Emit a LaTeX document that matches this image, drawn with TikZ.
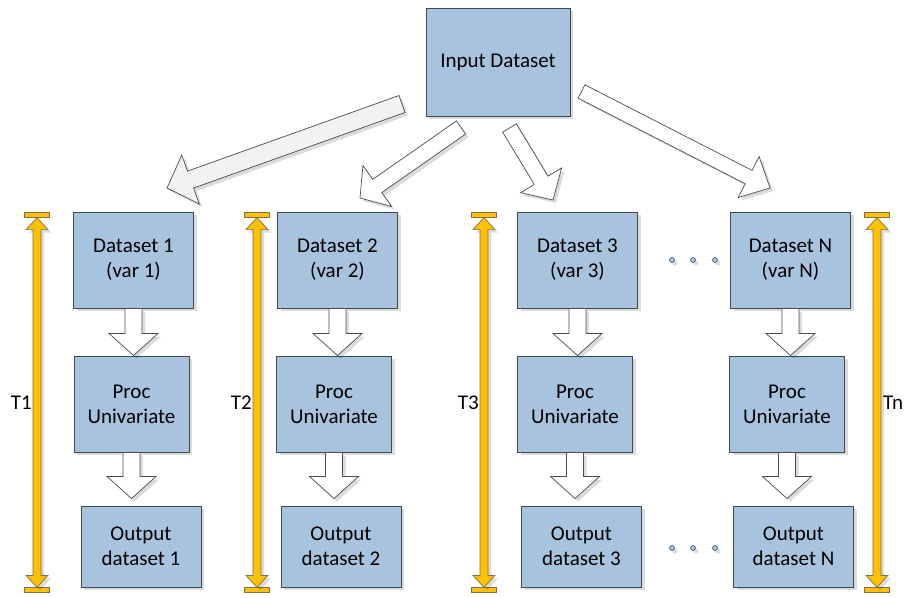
\documentclass[tikz,border=0pt]{standalone}
\usepackage{fontspec}
\setmainfont{Carlito}
\usetikzlibrary{calc}
\usetikzlibrary{positioning}
\usetikzlibrary{shadows}

\definecolor{boxblue}{RGB}{167,195,222}
\definecolor{boxline}{RGB}{62,72,82}
\definecolor{barfill}{RGB}{255,192,0}
\definecolor{barline}{RGB}{125,112,80}

\tikzset{
  softshadow/.style={drop shadow={shadow xshift=3pt, shadow yshift=-3pt, fill=black, opacity=.14}},
  box/.style={draw=boxline, line width=1pt, fill=boxblue, align=center, inner sep=2pt,
    font=\fontsize{21}{25}\selectfont, softshadow},
  dset/.style={box, minimum width=120pt, minimum height=96pt},
  proc/.style={box, minimum width=115pt, minimum height=96pt},
  outp/.style={box, minimum width=120pt, minimum height=81pt},
  fat/.style={draw=gray!60!black, line width=.7pt, line join=miter, softshadow},
  tbar/.style={draw=barline, fill=barfill, minimum width=25pt, minimum height=4.5pt, inner sep=0pt, line width=.7pt},
  tline/.style={draw=barline, fill=barfill, line width=.7pt, softshadow},
  tlabel/.style={inner sep=1pt, font=\fontsize{21}{25}\selectfont},
  dot/.style={circle, draw=boxline, fill=boxblue, minimum size=5pt, inner sep=0pt, line width=.6pt, softshadow}
}

% block arrow: [fill]{from}{to}{half shaft}{half head}{head length}
\newcommand{\fatarrow}[6][white]{%
  \path (#2) coordinate (fa-a) (#3) coordinate (fa-b);
  \path ($(fa-b)!#6!(fa-a)$) coordinate (fa-h);
  \draw[fat, fill=#1] ($(fa-a)!#4!90:(fa-b)$) -- ($(fa-h)!#4!90:(fa-b)$) -- ($(fa-h)!#5!90:(fa-b)$)
    -- (fa-b) -- ($(fa-h)!#5!-90:(fa-b)$) -- ($(fa-h)!#4!-90:(fa-b)$) -- ($(fa-a)!#4!-90:(fa-b)$) -- cycle;
}
% yellow double arrow between two bars
\newcommand{\timespan}[2]{%
  \path (#1) coordinate (ts-a) (#2) coordinate (ts-b);
  \path ($(ts-a)!12pt!(ts-b)$) coordinate (ts-ha) ($(ts-b)!12pt!(ts-a)$) coordinate (ts-hb);
  \draw[tline] (ts-a) -- ($(ts-ha)!11pt!90:(ts-b)$) -- ($(ts-ha)!4pt!90:(ts-b)$)
    -- ($(ts-hb)!4pt!-90:(ts-a)$) -- ($(ts-hb)!11pt!-90:(ts-a)$) -- (ts-b)
    -- ($(ts-hb)!11pt!90:(ts-a)$) -- ($(ts-hb)!4pt!90:(ts-a)$)
    -- ($(ts-ha)!4pt!-90:(ts-b)$) -- ($(ts-ha)!11pt!-90:(ts-b)$) -- cycle;
}

\begin{document}
\begin{tikzpicture}[x=1pt, y=-1pt]
\useasboundingbox (0,0) rectangle (909,597);

\node[box, minimum width=144pt, minimum height=108pt] (in) at (498,62) {Input Dataset};

\node[dset] (d1) at (133.5,260) {Dataset 1\\(var 1)};
\node[proc] (p1) at (131.5,404) {Proc\\Univariate};
\node[outp] (o1) at (141,546.5) {Output\\dataset 1};

\node[dset] (d2) at (337.5,260) {Dataset 2\\(var 2)};
\node[proc] (p2) at (334,404) {Proc\\Univariate};
\node[outp] (o2) at (341,546.5) {Output\\dataset 2};

\node[dset] (d3) at (577.5,260) {Dataset 3\\(var 3)};
\node[proc] (p3) at (575,404) {Proc\\Univariate};
\node[outp] (o3) at (581.5,546.5) {Output\\dataset 3};

\node[dset] (dN) at (790.5,260) {Dataset N\\(var N)};
\node[proc] (pN) at (787,404) {Proc\\Univariate};
\node[outp] (oN) at (793.5,546.5) {Output\\dataset N};

% dots between column 3 and N
\foreach \i/\x in {1/672,2/693,3/715} {
  \node[dot] (up\i) at (\x,260) {};
  \node[dot] (dn\i) at (\x,548) {};
}

% split arrows from the input
\coordinate (s1) at (402,104);   \coordinate (e1) at (167,188);
\coordinate (s2) at (461,127.5); \coordinate (e2) at (360,198);
\coordinate (s3) at (509.5,128); \coordinate (e3) at (553,200);
\coordinate (s4) at (581.5,91.5); \coordinate (e4) at (770,188);
\fatarrow[gray!10]{s1}{e1}{9pt}{26pt}{25pt}
\fatarrow{s2}{e2}{8pt}{25pt}{21pt}
\fatarrow{s3}{e3}{8pt}{24pt}{23pt}
\fatarrow{s4}{e4}{7.5pt}{23pt}{24pt}

% down the columns
\foreach \c in {1,2,3,N} {
  \fatarrow{d\c.south}{d\c.south|-p\c.north}{8.5pt}{24.5pt}{22pt}
  \fatarrow{p\c.south}{$(p\c.south|-o\c.north)+(0,-7)$}{8.5pt}{24.5pt}{22pt}
}

% time spans
\foreach \t/\x in {1/37,2/257,3/484,n/877} {
  \node[tbar] (t\t a) at (\x,215) {};
  \node[tbar] (t\t b) at (\x,590) {};
  \timespan{t\t a.south}{t\t b.north}
}
\node[tlabel, left=4pt] (l1) at ($(t1a)!.5!(t1b)$) {T1};
\node[tlabel, left=4pt] (l2) at ($(t2a)!.5!(t2b)$) {T2};
\node[tlabel, left=4pt] (l3) at ($(t3a)!.5!(t3b)$) {T3};
\node[tlabel, right=5pt] (ln) at ($(tna)!.5!(tnb)$) {Tn};
\end{tikzpicture}
\end{document}
